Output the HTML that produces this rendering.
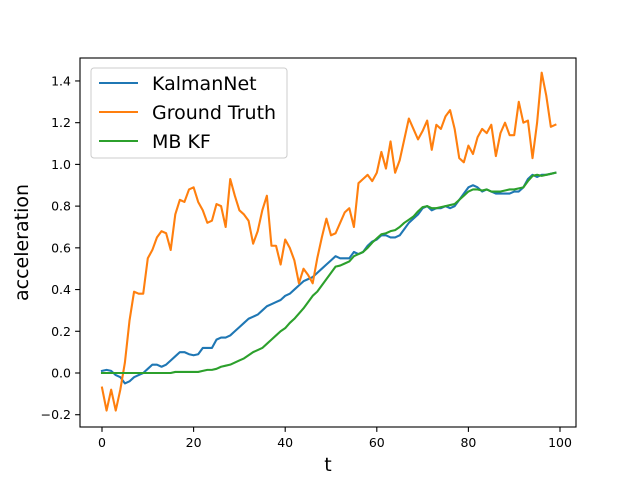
<!DOCTYPE html>
<html><head><meta charset="utf-8"><style>
body{margin:0;background:#fff}
svg text{font-family:"DejaVu Sans","Liberation Sans",sans-serif}
</style></head><body>
<svg id="chart" width="640" height="480" xmlns="http://www.w3.org/2000/svg">
<rect width="640" height="480" fill="#fff"/>
<g id="plot"></g>
</svg>
<script>
const tValues=[...Array(100).keys()];
const kalmanNet=[0.01,0.015,0.01,-0.01,-0.02,-0.05,-0.04,-0.02,-0.01,0.0,0.02,0.04,0.04,0.03,0.04,0.06,0.08,0.10,0.10,0.09,0.085,0.09,0.12,0.12,0.12,0.16,0.17,0.17,0.18,0.20,0.22,0.24,0.26,0.27,0.28,0.30,0.32,0.33,0.34,0.35,0.37,0.38,0.40,0.42,0.44,0.45,0.46,0.48,0.50,0.52,0.54,0.56,0.55,0.55,0.55,0.58,0.57,0.58,0.61,0.63,0.64,0.66,0.66,0.65,0.65,0.66,0.69,0.72,0.74,0.76,0.79,0.80,0.78,0.79,0.79,0.80,0.79,0.80,0.83,0.86,0.89,0.90,0.89,0.87,0.88,0.87,0.86,0.86,0.86,0.86,0.87,0.87,0.89,0.93,0.95,0.94,0.95,0.95,0.955,0.96];
const groundTruth=[-0.07,-0.18,-0.08,-0.18,-0.08,0.05,0.25,0.39,0.38,0.38,0.55,0.59,0.65,0.68,0.67,0.59,0.76,0.83,0.82,0.88,0.89,0.82,0.78,0.72,0.73,0.81,0.80,0.70,0.93,0.85,0.78,0.76,0.73,0.62,0.68,0.78,0.85,0.61,0.61,0.52,0.64,0.60,0.54,0.43,0.50,0.47,0.43,0.55,0.65,0.74,0.66,0.67,0.72,0.77,0.79,0.70,0.91,0.93,0.95,0.92,0.96,1.06,0.98,1.11,0.96,1.02,1.12,1.22,1.17,1.12,1.16,1.21,1.07,1.19,1.17,1.23,1.26,1.17,1.03,1.01,1.09,1.05,1.13,1.17,1.15,1.19,1.04,1.15,1.20,1.14,1.14,1.30,1.20,1.21,1.03,1.20,1.44,1.33,1.18,1.19];
const mbKF=[0,0,0,0,0,0,0,0,0,0,0,0,0,0,0,0,0.005,0.005,0.005,0.005,0.005,0.005,0.01,0.015,0.015,0.02,0.03,0.035,0.04,0.05,0.06,0.07,0.085,0.10,0.11,0.12,0.14,0.16,0.18,0.20,0.215,0.24,0.26,0.285,0.31,0.34,0.37,0.39,0.42,0.45,0.48,0.51,0.515,0.525,0.535,0.56,0.57,0.58,0.60,0.625,0.645,0.665,0.67,0.68,0.685,0.70,0.72,0.735,0.75,0.775,0.795,0.80,0.79,0.79,0.795,0.80,0.805,0.81,0.83,0.85,0.87,0.88,0.88,0.875,0.88,0.87,0.87,0.87,0.875,0.88,0.88,0.885,0.89,0.92,0.945,0.95,0.945,0.95,0.955,0.96];
const xTicks=[0,20,40,60,80,100];
const yTicks=[-0.2,0.0,0.2,0.4,0.6,0.8,1.0,1.2,1.4];
const seriesNames=["KalmanNet","Ground Truth","MB KF"];
const seriesColors=["#1f77b4","#ff7f0e","#2ca02c"];

const L=80,R=576,T=58,B=427;
const xs=t=>102+(t-0)*4.58;
const ys=v=>373-v*208.6;
const NS="http://www.w3.org/2000/svg";
const g=document.getElementById('plot');
function mk(tag,attrs,parent){const e=document.createElementNS(NS,tag);for(const k in attrs)e.setAttribute(k,attrs[k]);(parent||g).appendChild(e);return e;}

const data=[kalmanNet,groundTruth,mbKF];
data.forEach((arr,i)=>{
  const d=arr.map((v,j)=>(j?'L':'M')+xs(tValues[j]).toFixed(2)+','+ys(v).toFixed(2)).join(' ');
  const p=mk('path',{d:d,fill:'none',stroke:seriesColors[i],'stroke-width':2.1,'stroke-linejoin':'round','stroke-linecap':'square'});
  
  
});
const frame=mk('rect',{x:L,y:T,width:R-L,height:B-T,fill:'none',stroke:'#000','stroke-width':1.1});


xTicks.forEach(t=>{
  const x=xs(t);
  mk('line',{x1:x,x2:x,y1:B,y2:B+4.9,stroke:'#000','stroke-width':1.1});
  const tx=mk('text',{x:x,y:B+20,'text-anchor':'middle','font-size':12.5});
  tx.textContent=t;
  
  
});
yTicks.forEach(v=>{
  const y=ys(v);
  mk('line',{x1:L-4.9,x2:L,y1:y,y2:y,stroke:'#000','stroke-width':1.1});
  const tx=mk('text',{x:L-9,y:y+4.5,'text-anchor':'end','font-size':12.5});
  tx.textContent=v.toFixed(1).replace('-','\u2212');
  
  
});
const xt=mk('text',{x:(L+R)/2,y:471,'text-anchor':'middle','font-size':19});
xt.textContent='t';


const yt=mk('text',{x:28,y:(T+B)/2,'text-anchor':'middle','font-size':19,transform:'rotate(-90 28 '+((T+B)/2)+')'});
yt.textContent='acceleration';


const lg=mk('g',{});


mk('rect',{x:91,y:68,width:196,height:90,rx:3,fill:'#fff','fill-opacity':0.8,stroke:'#ccc','stroke-width':1},lg);
seriesNames.forEach((n,i)=>{
  const y=83+i*29;
  mk('line',{x1:99,x2:138,y1:y,y2:y,stroke:seriesColors[i],'stroke-width':2.1},lg);
  const tx=mk('text',{x:152,y:y+7,'font-size':19},lg);
  tx.textContent=n;
  
  
});
</script>
</body></html>
